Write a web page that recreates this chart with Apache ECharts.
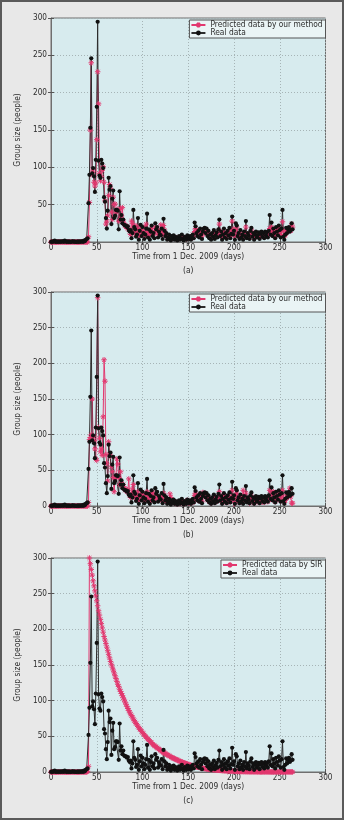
<!DOCTYPE html>
<html>
<head>
<meta charset="utf-8">
<script src="https://cdn.jsdelivr.net/npm/echarts@6/dist/echarts.min.js"></script>
<style>
html,body{margin:0;padding:0;background:#e8e8e8;}
#c{width:344px;height:820px;}
</style>
</head>
<body>
<div id="c"></div>
<script>
// ---- data (days 0..264) ----
const realData = [
0,1,0,1,2,0,1,0,1,0,
1,0,1,1,0,2,1,0,1,0,
1,0,0,1,1,0,1,0,0,1,
0,1,0,1,1,0,2,1,3,4,
5,52,90,153,246,92,99,88,67,110,
181,295,109,89,86,110,105,99,60,54,
32,18,42,86,70,75,24,58,69,32,
35,43,43,42,17,68,30,36,25,30,
23,22,22,20,21,16,14,16,5,12,
43,20,17,7,10,32,3,15,23,8,
20,12,4,10,18,38,6,17,3,14,
22,8,12,5,25,17,20,6,14,10,
9,18,4,31,15,8,12,3,6,10,
4,2,8,5,9,3,7,4,2,6,
8,3,5,10,4,2,7,5,3,9,
6,4,8,3,6,10,5,26,21,12,
8,15,6,18,10,4,14,18,19,12,
18,8,15,5,10,3,12,7,16,4,
9,13,6,17,30,8,14,3,10,18,
6,12,4,15,9,19,5,11,34,10,
15,3,25,22,8,12,4,16,6,10,
3,14,8,28,5,12,9,4,15,19,
7,12,3,10,14,6,9,13,4,11,
14,7,12,5,14,9,13,6,15,36,
10,26,8,18,12,5,20,14,9,22,
16,6,18,43,7,3,10,19,12,17,
20,14,16,25,17
];
const predA = [
0,0,0,0,0,0,0,0,0,0,
0,0,0,0,0,0,0,0,0,0,
0,0,0,0,0,0,0,0,0,0,
0,0,0,0,0,0,0,0,0,0,
0,7,53,150,240,90,95,80,75,79,
137,228,185,92,82,88,96,101,80,55,
24,28,35,62,77,72,40,30,60,50,
51,40,42,44,28,30,45,35,46,28,
24,22,20,21,18,17,14,10,28,25,
20,14,10,22,18,12,8,14,20,12,
15,12,8,20,24,12,9,14,10,16,
18,10,11,14,20,18,15,10,12,10,
23,14,10,22,16,10,8,6,7,8,
5,4,6,6,7,5,5,5,4,5,
6,5,5,7,5,4,5,5,4,6,
6,5,6,5,5,10,7,14,18,14,
10,12,9,14,12,8,11,15,17,14,
15,11,13,9,9,6,9,8,12,8,
8,10,8,13,24,14,12,7,9,14,
9,10,7,12,10,15,9,10,28,17,
14,8,17,20,12,11,7,12,8,9,
6,11,9,20,11,10,9,6,12,16,
10,11,6,8,12,8,9,11,7,10,
12,9,11,7,12,10,12,8,12,18,
15,20,12,15,12,8,16,14,10,18,
16,10,15,27,15,8,9,15,13,15,
18,15,15,24,20
];
const predB = [
0,0,0,0,0,0,0,0,0,0,
0,0,0,0,0,0,0,0,0,0,
0,0,0,0,0,0,0,0,0,0,
0,0,0,0,0,0,0,0,0,0,
0,5,93,96,100,150,98,92,80,66,
64,292,110,95,76,80,71,125,205,175,
72,60,35,90,72,70,55,48,40,20,
38,42,66,59,40,30,48,32,28,30,
25,22,24,20,22,38,15,12,18,24,
30,15,12,10,14,20,8,10,16,12,
14,18,8,9,14,20,10,12,7,10,
16,19,10,9,15,14,14,9,10,9,
10,12,7,18,14,9,8,5,6,8,
17,12,6,5,7,4,6,5,3,5,
6,4,5,7,5,3,5,5,4,8,
6,4,6,4,5,8,6,15,18,12,
9,12,7,12,10,6,19,16,15,12,
14,8,12,6,8,4,9,7,12,5,
13,10,7,12,20,10,12,5,8,14,
7,10,5,11,9,14,6,9,22,12,
-1,5,16,18,9,10,5,12,6,9,
22,10,8,18,8,10,7,4,11,14,
8,10,4,8,11,6,8,10,5,9,
11,6,10,5,11,8,10,6,11,22,
10,18,9,20,12,6,15,12,10,16,
14,7,14,22,10,5,8,14,11,14,
16,25,13,4,4
];
const predSIR = [
0,0,0,0,0,0,0,0,0,0,
0,0,0,0,0,0,0,0,0,0,
0,0,0,0,0,0,0,0,0,0,
0,0,0,0,0,0,0,0,0,0,
1,8,300,292,284,276,268,261,254,247,
240,233,226,220,214,208,202,196,190,185,
180,175,170,165,160,155,151,147,143,139,
135,131,127,123,120,116,113,110,107,104,
101,98,95,92,89,86,84,81,79,77,
74,72,70,68,66,64,62,60,59,57,
55,54,52,50,49,47,46,45,43,42,
41,39,38,37,36,35,34,33,32,31,
30,29,28,27,26.5,26,25,24,23.5,23,
22,21,20.5,20,19,18.5,18,17.5,17,16,
15.5,15,14.5,14,13.5,13,12.5,12,11.5,11,
10.5,10,9.7,9.3,9,8.6,8.3,8,7.6,7.3,
7,6.7,6.4,6.1,5.8,5.6,5.3,5.1,4.9,4.7,
4.5,4.3,4.1,3.9,3.7,3.6,3.4,3.3,3.1,3,
2.9,2.7,2.6,2.5,2.4,2.3,2.2,2.1,2,1.9,
1.8,1.7,1.6,1.5,1.5,1.4,1.3,1.3,1.2,1.1,
1.1,1,1,0.9,0.9,0.8,0.8,0.7,0.7,0.7,
0.6,0.6,0.6,0.5,0.5,0.5,0.5,0.4,0.4,0.4,
0.4,0.4,0.3,0.3,0.3,0.3,0.3,0.3,0.2,0.2,
0.2,0.2,0.2,0.2,0.2,0.2,0.2,0.1,0.1,0.1,
0.1,0.1,0.1,0.1,0.1,0.1,0.1,0.1,0.1,0.1,
0.1,0.1,0.1,0.1,0.1,0.1,0.1,0.1,0.1,0.1,
0.1,0.1,0.1,0.1,0.1
];
const xTicks = [0, 300, 50];   // min, max, interval
const yTicks = [0, 300, 50];
const panelLabels = ['(a)', '(b)', '(c)'];
const nameReal = 'Real data';
const nameOur = 'Predicted data by our method';
const nameSIR = 'Predicted data by SIR';
const xName = 'Time from 1 Dec. 2009 (days)';
const yName = 'Group size (people)';

// ---- font selection (condensed humanist look) ----
const cv = document.createElement('canvas').getContext('2d');
function tw(font, size, s) { cv.font = size + 'px ' + font; return cv.measureText(s).width; }
function avail(f) {
  const s = 'Time from 1 Dec. 2009 (days) WMil';
  return tw('"' + f + '", monospace', 20, s) !== tw('monospace', 20, s);
}
const cands = ['Liberation Sans Narrow', 'DejaVu Sans Condensed', 'Open Sans', 'Noto Sans', 'Liberation Sans'];
const famName = cands.find(avail) || 'sans-serif';
const FONT = '"' + famName + '", sans-serif';
const NAME_SIZE = Math.min(9, 20 * 112 / tw(FONT, 20, xName));
const TICK_SIZE = Math.min(9.5, 20 * 14 / tw(FONT, 20, '300'));

// ---- build ----
const days = realData.map((v, i) => i);
const pairs = vals => vals.map((v, i) => [days[i], v]);

const TXT = '#2b2b2b';
const PINK = '#e2386f';
const BLACK = '#111';
const STAR = 'path://M0,-5L0,5M-5,0L5,0M-3.6,-3.6L3.6,3.6M-3.6,3.6L3.6,-3.6';

const grids = [
  {left: 51, top: 18, width: 274.5, height: 224},
  {left: 51, top: 292, width: 274.5, height: 214},
  {left: 51, top: 558, width: 274.5, height: 214}
];
const preds = [[nameOur, predA], [nameOur, predB], [nameSIR, predSIR]];

const option = {
  backgroundColor: '#e8e8e8',
  animation: false,
  grid: grids.map(g => Object.assign({show: true, backgroundColor: '#d7ebee', borderColor: '#6f6f6f', borderWidth: 1}, g)),
  xAxis: [], yAxis: [], series: [], legend: [],
  graphic: [{type: 'rect', shape: {x: 1, y: 1, width: 342, height: 818}, style: {fill: 'none', stroke: '#5a5a5a', lineWidth: 2}, silent: true}]
};

grids.forEach((g, i) => {
  const axBase = {type: 'value', gridIndex: i, min: xTicks[0], max: xTicks[1], interval: xTicks[2]};
  option.xAxis.push(Object.assign({}, axBase, {
    position: 'bottom',
    axisLine: {lineStyle: {color: '#6f6f6f', width: 1}},
    axisTick: {inside: true, length: 3, lineStyle: {color: '#555'}},
    axisLabel: {fontSize: TICK_SIZE, color: TXT, fontFamily: FONT, margin: 2},
    splitLine: {show: true, lineStyle: {color: '#a6b4b6', type: [1, 2], width: 1}},
    name: xName, nameLocation: 'middle', nameGap: 11,
    nameTextStyle: {fontSize: NAME_SIZE, color: TXT, fontFamily: FONT}
  }));
  option.xAxis.push(Object.assign({}, axBase, {
    position: 'top',
    axisLine: {show: false},
    axisTick: {inside: true, length: 3, lineStyle: {color: '#555'}},
    axisLabel: {show: false}, splitLine: {show: false}
  }));
  const ayBase = {type: 'value', gridIndex: i, min: yTicks[0], max: yTicks[1], interval: yTicks[2]};
  option.yAxis.push(Object.assign({}, ayBase, {
    position: 'left',
    axisLine: {show: true, lineStyle: {color: '#6f6f6f', width: 1}},
    axisTick: {show: true, inside: true, length: 3, lineStyle: {color: '#555'}},
    axisLabel: {fontSize: TICK_SIZE, color: TXT, fontFamily: FONT, margin: 4},
    splitLine: {show: true, lineStyle: {color: '#a6b4b6', type: [1, 2], width: 1}},
    name: yName, nameLocation: 'middle', nameGap: 21,
    nameTextStyle: {fontSize: NAME_SIZE, color: TXT, fontFamily: FONT}
  }));
  option.yAxis.push(Object.assign({}, ayBase, {
    position: 'right',
    axisLine: {show: false},
    axisTick: {show: true, inside: true, length: 3, lineStyle: {color: '#555'}},
    axisLabel: {show: false}, splitLine: {show: false}
  }));
  option.series.push({
    type: 'line', name: preds[i][0], xAxisIndex: 2 * i, yAxisIndex: 2 * i,
    data: pairs(preds[i][1]),
    symbol: STAR, symbolSize: 5.5,
    itemStyle: {color: PINK, borderColor: PINK, borderWidth: 1},
    lineStyle: {color: PINK, width: 1},
    emphasis: {disabled: true}
  });
  option.series.push({
    type: 'line', name: nameReal, xAxisIndex: 2 * i, yAxisIndex: 2 * i,
    data: pairs(realData),
    symbol: 'circle', symbolSize: 4.2,
    itemStyle: {color: BLACK},
    lineStyle: {color: '#2c2c2c', width: 1},
    emphasis: {disabled: true}
  });
  option.legend.push({
    data: [preds[i][0], nameReal],
    orient: 'vertical', right: 18.5, top: g.top + 2,
    itemWidth: 14, itemHeight: 6, itemGap: 0, itemTextGap: 2,
    padding: [1, 3, 1, 1],
    backgroundColor: '#eaf4f5', borderColor: '#555', borderWidth: 1,
    selectedMode: false,
    textStyle: {fontSize: NAME_SIZE, color: TXT, fontFamily: FONT, lineHeight: 8}
  });
  option.graphic.push({
    type: 'text', x: g.left + g.width / 2, y: g.top + g.height + 28.5, silent: true,
    style: {text: panelLabels[i], align: 'center', verticalAlign: 'middle', textAlign: 'center', textVerticalAlign: 'middle', fontSize: NAME_SIZE, fill: TXT, fontFamily: FONT}
  });
});

const chart = echarts.init(document.getElementById('c'), null, {renderer: 'canvas'});
chart.setOption(option);
</script>
</body>
</html>
